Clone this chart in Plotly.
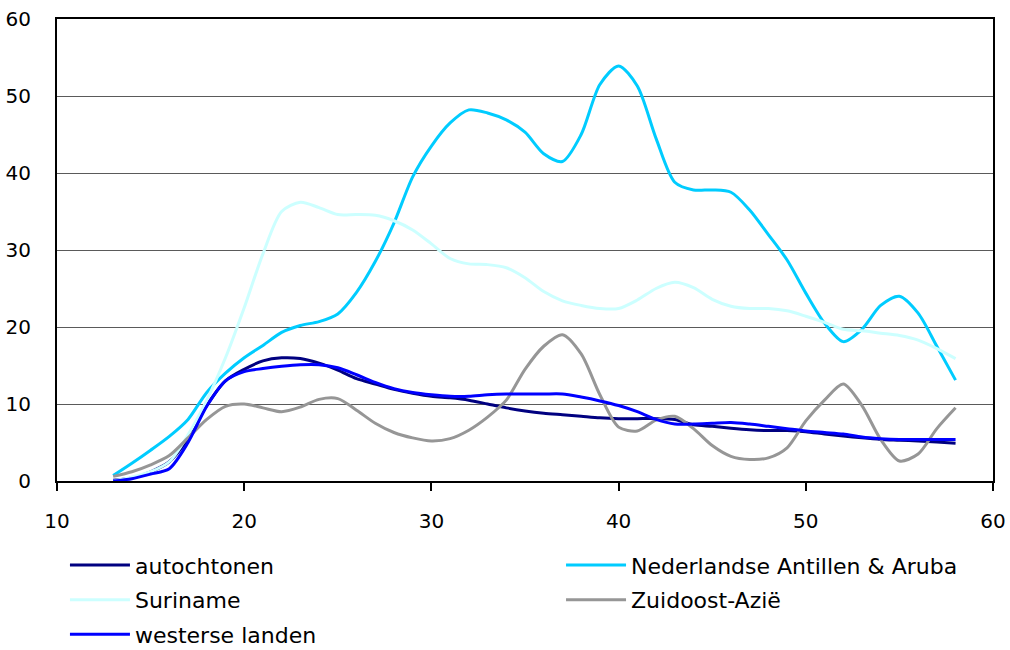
import plotly.graph_objects as go

ages = list(range(13, 59))

autochtonen = [0.1, 0.4, 1.2, 2.5, 5.5, 9.8, 13.0, 14.5, 15.6, 16.0, 15.9, 15.3, 14.4, 13.3,
               12.6, 11.9, 11.4, 11.0, 10.8, 10.5, 10.0, 9.5, 9.1, 8.8, 8.6, 8.4, 8.2, 8.1,
               8.1, 8.1, 8.0, 7.3, 7.1, 6.85, 6.65, 6.55, 6.55, 6.4, 6.1, 5.85, 5.6, 5.4,
               5.3, 5.2, 5.05, 4.9]
antillen = [0.7, 2.3, 4.0, 5.8, 8.0, 11.5, 14.0, 16.0, 17.6, 19.3, 20.2, 20.7, 21.7, 24.5,
            28.5, 33.5, 39.5, 43.5, 46.5, 48.2, 47.8, 46.9, 45.3, 42.5, 41.5, 45.0, 51.5, 53.9,
            51.3, 44.5, 38.8, 37.8, 37.8, 37.5, 35.2, 32.0, 28.7, 24.4, 20.5, 18.1, 19.7, 22.8,
            24.0, 21.8, 17.5, 13.1]
suriname = [0.0, 0.5, 1.2, 2.5, 6.0, 10.5, 16.0, 22.5, 29.5, 35.0, 36.2, 35.5, 34.6, 34.6,
            34.5, 33.8, 32.6, 30.8, 28.9, 28.2, 28.1, 27.7, 26.4, 24.6, 23.4, 22.8, 22.4, 22.4,
            23.5, 25.0, 25.8, 25.1, 23.6, 22.7, 22.4, 22.4, 22.1, 21.4, 20.6, 19.7, 19.5, 19.2,
            18.9, 18.3, 17.2, 15.9]
zuidoost = [0.6, 1.2, 2.1, 3.3, 5.6, 8.0, 9.7, 10.0, 9.5, 9.0, 9.6, 10.6, 10.7, 9.2,
            7.5, 6.3, 5.6, 5.2, 5.5, 6.6, 8.3, 10.5, 14.5, 17.5, 19.0, 16.5, 11.2, 7.0,
            6.5, 7.9, 8.4, 6.8, 4.6, 3.2, 2.8, 3.0, 4.3, 7.8, 10.5, 12.6, 9.8, 5.4,
            2.6, 3.5, 6.8, 9.5]
westers = [0.0, 0.3, 0.9, 1.6, 5.0, 9.7, 13.0, 14.2, 14.6, 14.9, 15.1, 15.1, 14.7, 13.8,
           12.8, 12.0, 11.5, 11.2, 11.0, 11.0, 11.2, 11.3, 11.3, 11.3, 11.3, 10.9, 10.4, 9.8,
           9.0, 8.0, 7.4, 7.4, 7.5, 7.6, 7.4, 7.1, 6.8, 6.5, 6.3, 6.1, 5.7, 5.5,
           5.4, 5.4, 5.4, 5.4]

# (name, values, colour, legend column)
series = [
    ("autochtonen", autochtonen, "#000080", "legend"),
    ("Nederlandse Antillen & Aruba", antillen, "#00CCFF", "legend2"),
    ("Suriname", suriname, "#CCFFFF", "legend"),
    ("Zuidoost-Azië", zuidoost, "#969696", "legend2"),
    ("westerse landen", westers, "#0000FF", "legend"),
]

fig = go.Figure()
for i, (name, vals, col, lg) in enumerate(series):
    fig.add_trace(go.Scatter(x=ages, y=vals, name=name, mode="lines", legend=lg,
                             legendgroup=f"g{i}",
                             line=dict(color=col, width=3, shape="spline", smoothing=0.8)))

font = "DejaVu Sans"
legend_common = dict(orientation="v", xanchor="left", yanchor="top", y=-0.137,
                     itemwidth=60, tracegroupgap=3,
                     font=dict(family=font, size=22, color="black"),
                     bgcolor="rgba(0,0,0,0)")
fig.update_layout(
    width=1010, height=650,
    margin=dict(l=57, r=17, t=19, b=169, autoexpand=False),
    paper_bgcolor="white", plot_bgcolor="white",
    font=dict(family=font, size=20, color="black"),
    showlegend=True,
    legend=dict(x=0.0085, **legend_common),
    legend2=dict(x=0.5385, **legend_common),
    xaxis=dict(range=[10, 60], tickvals=[10, 20, 30, 40, 50, 60], showgrid=False,
               showline=True, linecolor="black", linewidth=2, mirror=True,
               ticks="outside", ticklen=8, tickwidth=2, tickcolor="black",
               ticklabelstandoff=13, zeroline=False, automargin=False),
    yaxis=dict(range=[0, 60], tickvals=[0, 10, 20, 30, 40, 50, 60], showgrid=True,
               gridcolor="#5a5a5a", gridwidth=1,
               showline=True, linecolor="black", linewidth=2, mirror=True,
               ticks="", ticklabelstandoff=20, zeroline=False, automargin=False),
)

fig.write_html("out.html", config={"displayModeBar": False},
               post_script="document.body.style.margin='0';document.body.style.overflow='hidden';")
